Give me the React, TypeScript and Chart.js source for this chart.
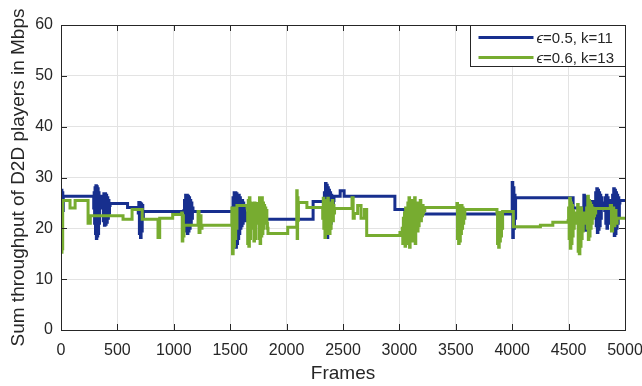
import React, { useEffect, useRef } from "react";
import { Chart, registerables } from "chart.js";

Chart.register(...registerables);

// ---- data ----
const xTicks = [0, 500, 1000, 1500, 2000, 2500, 3000, 3500, 4000, 4500, 5000];
const yTicks = [0, 10, 20, 30, 40, 50, 60];
const xTitle = "Frames";
const yTitle = "Sum throughput of D2D players in Mbps";
const seriesNames = ["=0.5, k=11", "=0.6, k=13"]; // each preceded by italic ϵ
const seriesColors = ["#172f8e", "#77ac30"];

// [startFrame, endFrame, values held in turn over that span]
const blueSegments: [number, number, number[]][] = [
  [0, 20, [24, 27.5, 23, 27, 23.5]],
  [20, 290, [26.3]],
  [290, 345, [24, 27, 21, 28, 19, 28.4, 18, 28.2, 18.5, 27.8, 19, 27, 21, 26]],
  [345, 365, [26.3]],
  [365, 435, [24, 26, 21.5, 26.8, 20.6, 26.8, 20.8, 26.5, 21.2, 26, 22, 25.5, 23, 24.5]],
  [435, 590, [24.9]],
  [590, 685, [24.1]],
  [685, 730, [23, 25.1, 19, 25, 18.2, 24.8, 19.5, 24.5, 22]],
  [730, 1090, [23.3]],
  [1090, 1170, [23.5, 25.5, 21, 26.5, 19.5, 26.5, 19, 26.3, 19.5, 26, 20, 25.5, 21, 25, 22, 24]],
  [1170, 1520, [23.3]],
  [1520, 1650, [24, 26, 19, 27, 17, 27, 16.3, 26.8, 17, 26.5, 18, 26.5, 19, 26, 20, 25.5, 20.5, 25.5, 21, 25, 21.5, 24, 22, 23, 21.5, 22]],
  [1650, 2235, [21.8]],
  [2235, 2330, [25.3]],
  [2330, 2420, [25, 27, 21, 28.8, 18.5, 28.5, 18.2, 28, 19, 27.5, 20, 27, 21, 26.5, 22, 26, 23.5, 25.5]],
  [2420, 2475, [26.3]],
  [2475, 2510, [27.4]],
  [2510, 2960, [26.3]],
  [2960, 3050, [23.7]],
  [3050, 4000, [22.8]],
  [4000, 4030, [29, 18.2, 28, 20, 26.5, 22]],
  [4030, 4540, [26]],
  [4540, 4630, [24]],
  [4630, 4710, [24, 26.5, 20, 26.2, 19.6, 26, 20.5, 25.8, 21, 25.5, 22, 25, 22.5, 24.5, 23.5, 24]],
  [4710, 4735, [25.3]],
  [4735, 4800, [24, 27, 20.5, 27.8, 19.2, 27.5, 19.8, 27, 20.5, 26.5, 22, 26, 24]],
  [4800, 4820, [25]],
  [4820, 4870, [23.5, 26, 21, 26.5, 20, 26, 21, 25.5, 22.5, 24.5]],
  [4870, 4885, [25.5]],
  [4885, 4955, [24, 26.5, 20, 27.8, 18.6, 27.5, 19, 27, 20, 26.5, 21, 26, 22.5, 25]],
  [4955, 5000, [25.5]],
];

const greenSegments: [number, number, number[]][] = [
  [0, 18, [17, 25, 15.3, 24.5, 16, 25.5]],
  [18, 80, [25.5]],
  [80, 125, [24]],
  [125, 240, [25.5]],
  [240, 260, [21]],
  [260, 550, [22.5]],
  [550, 630, [21.8]],
  [630, 720, [23.7]],
  [720, 860, [21.8]],
  [860, 875, [18.2]],
  [875, 990, [22]],
  [990, 1070, [22.7]],
  [1070, 1090, [23, 17.5, 22.5, 18.5]],
  [1090, 1215, [20.6]],
  [1215, 1250, [23.3, 19.2, 22.5, 20]],
  [1250, 1515, [20.6]],
  [1515, 1560, [24, 15, 23, 16.5, 24, 18, 23.5, 20]],
  [1560, 1650, [24.5]],
  [1650, 1835, [24, 17, 25.5, 16.5, 26, 18, 25, 20, 24.9, 24.9, 24.9, 22, 17.5, 25, 18, 24.5, 21, 24.9, 24.9, 24.9, 23, 18, 26, 17, 25.5, 18.5, 26, 19, 25, 20, 24.5, 21, 24, 22, 23.5, 21, 20]],
  [1835, 2010, [19]],
  [2010, 2090, [20.2]],
  [2090, 2105, [27.4, 18, 26, 21.6]],
  [2105, 2180, [25.1]],
  [2180, 2315, [24.1]],
  [2315, 2430, [24.1, 22, 25.9, 20, 25, 18.2, 25.5, 19, 24.5, 20.5, 25.9, 21, 24, 19, 25, 20, 23.9, 22, 25.5, 21.5, 24.5, 23, 23.9]],
  [2430, 2580, [23.9]],
  [2580, 2600, [26, 22]],
  [2600, 2630, [22.9]],
  [2630, 2660, [24.5]],
  [2660, 2690, [22]],
  [2690, 2710, [23.7]],
  [2710, 3005, [18.6]],
  [3005, 3025, [19.2]],
  [3025, 3230, [20, 17, 22, 18.5, 23, 16.5, 24, 19, 22.5, 17, 25, 18, 26, 16.3, 24.5, 19, 23.5, 17.5, 25.5, 20, 24, 18, 26, 17, 24.5, 21, 25, 19.5, 23, 20.5, 24.5, 22, 25.5, 21.5, 24, 22.5, 24.5, 23, 24.1, 23.5, 24.1]],
  [3230, 3510, [24.1]],
  [3510, 3580, [24.9, 18, 24.5, 17, 24, 17.5, 23.5, 19, 24.5, 20, 24, 21, 23.7, 22]],
  [3580, 3865, [23.7]],
  [3865, 3920, [23, 17, 22.5, 16.3, 23.1, 17.5, 22.5, 18.5, 23, 20, 23.3]],
  [3920, 4010, [23.3]],
  [4010, 4250, [20.3]],
  [4250, 4360, [20.6]],
  [4360, 4495, [21.2]],
  [4495, 4750, [21.5, 24, 18, 25.9, 16.1, 25, 17, 24.5, 18.5, 23.5, 20, 22.5, 21.5, 23, 22, 22.5, 21, 24.7, 15.5, 24, 15, 23.5, 16.5, 24, 18, 22.5, 19.5, 23, 21, 22.5, 22, 23, 21.5, 24, 20, 26.3, 17.8, 25.5, 18.5, 25, 20, 24.5, 21, 24, 22, 23.5, 22.5, 23.9, 23, 23.9, 23.9]],
  [4750, 4870, [23.9]],
  [4870, 4930, [24.5, 19.5, 24, 20.5, 23.5, 21]],
  [4930, 5000, [22]],
];

function buildPoints(segs: [number, number, number[]][]) {
  const pts: { x: number; y: number }[] = [];
  for (const [s, e, vals] of segs) {
    const step = (e - s) / vals.length;
    vals.forEach((v, i) => pts.push({ x: s + i * step, y: v }));
  }
  const last = segs[segs.length - 1];
  pts.push({ x: last[1], y: last[2][last[2].length - 1] });
  return pts;
}

const FONT = '"Liberation Sans", Arial, Helvetica, sans-serif';
const TEXT = "#262626";

const framePlugin = {
  id: "matlabFrame",
  afterDraw(chart: any) {
    const { ctx, chartArea: a, scales } = chart;
    ctx.save();
    // inward ticks
    ctx.strokeStyle = TEXT;
    ctx.lineWidth = 1;
    ctx.beginPath();
    for (const v of xTicks) {
      const px = Math.round(scales.x.getPixelForValue(v)) + 0.5;
      ctx.moveTo(px, a.bottom);
      ctx.lineTo(px, a.bottom - 6);
      ctx.moveTo(px, a.top);
      ctx.lineTo(px, a.top + 6);
    }
    for (const v of yTicks) {
      const py = Math.round(scales.y.getPixelForValue(v)) + 0.5;
      ctx.moveTo(a.left, py);
      ctx.lineTo(a.left + 6, py);
      ctx.moveTo(a.right, py);
      ctx.lineTo(a.right - 6, py);
    }
    ctx.stroke();
    ctx.strokeRect(
      Math.round(a.left) + 0.5,
      Math.round(a.top) + 0.5,
      Math.round(a.right - a.left),
      Math.round(a.bottom - a.top)
    );

    // axis titles
    ctx.fillStyle = TEXT;
    ctx.font = `19px ${FONT}`;
    ctx.textAlign = "center";
    ctx.textBaseline = "middle";
    ctx.fillText(xTitle, (a.left + a.right) / 2, 374);
    ctx.save();
    ctx.translate(19, (a.top + a.bottom) / 2);
    ctx.rotate(-Math.PI / 2);
    ctx.fillText(yTitle, 0, 0);
    ctx.restore();

    // legend
    const bw = 155;
    const bh = 41;
    const bx = Math.round(a.right) - bw + 0.5;
    const by = Math.round(a.top) + 0.5;
    ctx.fillStyle = "#ffffff";
    ctx.fillRect(bx, by, bw, bh);
    ctx.strokeStyle = TEXT;
    ctx.lineWidth = 1;
    ctx.strokeRect(bx, by, bw, bh);
    seriesNames.forEach((name, i) => {
      const ly = by + 12 + i * 20;
      ctx.strokeStyle = seriesColors[i];
      ctx.lineWidth = 3;
      ctx.beginPath();
      ctx.moveTo(bx + 8, ly);
      ctx.lineTo(bx + 63, ly);
      ctx.stroke();
      ctx.fillStyle = TEXT;
      ctx.textAlign = "left";
      ctx.textBaseline = "middle";
      ctx.font = `italic 15px ${FONT}`;
      const eps = "\u03F5";
      ctx.fillText(eps, bx + 66, ly + 1);
      const w = ctx.measureText(eps).width;
      ctx.font = `15px ${FONT}`;
      ctx.fillText(name, bx + 66 + w, ly + 1);
    });
    ctx.restore();
  },
};

export default function App() {
  const ref = useRef<HTMLCanvasElement | null>(null);
  useEffect(() => {
    if (!ref.current) return;
    const chart = new Chart(ref.current, {
      type: "line",
      data: {
        datasets: [
          {
            label: "\u03F5" + seriesNames[0],
            data: buildPoints(blueSegments),
            borderColor: seriesColors[0],
            backgroundColor: seriesColors[0],
            borderWidth: 3,
            pointRadius: 0,
            stepped: true,
            order: 1,
          },
          {
            label: "\u03F5" + seriesNames[1],
            data: buildPoints(greenSegments),
            borderColor: seriesColors[1],
            backgroundColor: seriesColors[1],
            borderWidth: 3,
            pointRadius: 0,
            stepped: true,
            order: 0,
          },
        ],
      },
      options: {
        animation: false,
        responsive: false,
        layout: { padding: { left: 0, top: 25, right: 17, bottom: 0 } },
        plugins: {
          legend: { display: false },
          tooltip: { enabled: false },
          title: { display: false },
        },
        scales: {
          x: {
            type: "linear",
            min: 0,
            max: 5000,
            afterFit: (s: any) => {
              s.height = 56;
              s.paddingLeft = 0;
              s.paddingRight = 0;
            },
            afterBuildTicks: (s: any) => {
              s.ticks = xTicks.map((v) => ({ value: v }));
            },
            ticks: {
              color: TEXT,
              font: { family: FONT, size: 16 },
              padding: 11,
              maxRotation: 0,
              autoSkip: false,
              callback: (v: any) => String(v),
            },
            grid: { color: "#e3e3e3", drawTicks: false, lineWidth: 1 },
            border: { display: false },
          },
          y: {
            type: "linear",
            min: 0,
            max: 60,
            afterFit: (s: any) => {
              s.width = 61;
              s.paddingTop = 0;
              s.paddingBottom = 0;
            },
            afterBuildTicks: (s: any) => {
              s.ticks = yTicks.map((v) => ({ value: v }));
            },
            ticks: {
              color: TEXT,
              font: { family: FONT, size: 16 },
              padding: 8,
              callback: (v: any) => String(v),
            },
            grid: { color: "#e3e3e3", drawTicks: false, lineWidth: 1 },
            border: { display: false },
          },
        },
      },
      plugins: [framePlugin],
    });
    return () => chart.destroy();
  }, []);
  return (
    <div style={{ position: "absolute", left: 0, top: 0, width: 642, height: 386, background: "#fff" }}>
      <canvas ref={ref} width={642} height={386} style={{ display: "block" }} />
    </div>
  );
}
